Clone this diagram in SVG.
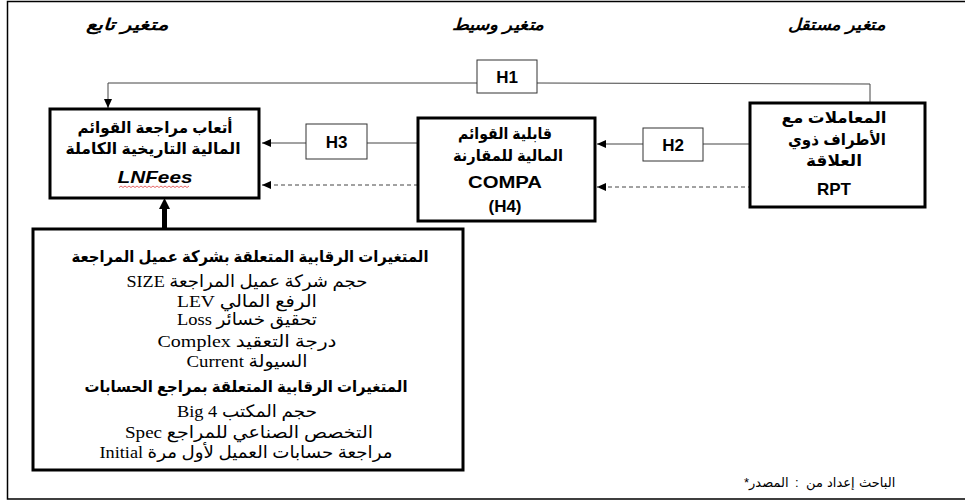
<svg xmlns="http://www.w3.org/2000/svg" width="965" height="503" viewBox="0 0 965 503">
<style>
.frame{fill:none;stroke:#000;stroke-width:1.5}
.box{fill:#fff;stroke:#000;stroke-width:3}
.hbox{fill:#fff;stroke:#333;stroke-width:1}
.ln{fill:none;stroke:#444;stroke-width:1}
.dash{fill:none;stroke:#444;stroke-width:1;stroke-dasharray:4,3}
.thick{fill:none;stroke:#000;stroke-width:5}
.hdr{font-family:"Liberation Sans","DejaVu Sans",sans-serif;font-weight:bold;font-style:italic;font-size:16px;fill:#000;text-anchor:middle}
.ar{font-family:"Liberation Sans","DejaVu Sans",sans-serif;font-weight:bold;font-size:16px;fill:#000;text-anchor:middle}
.lat{font-family:"Liberation Sans","DejaVu Sans",sans-serif;font-weight:bold;font-size:17px;fill:#000;text-anchor:middle}
.ser{font-family:"Liberation Serif","DejaVu Sans",serif;font-size:17px;fill:#000;text-anchor:middle}
.serb{font-family:"Liberation Sans","DejaVu Sans",sans-serif;font-weight:bold;font-size:16px;fill:#000;text-anchor:middle}
.foot{font-family:"Liberation Sans","DejaVu Sans",sans-serif;font-size:13px;fill:#000}
</style>
<defs>
<marker id="ah" markerWidth="9" markerHeight="8" refX="9" refY="4" orient="auto" markerUnits="userSpaceOnUse"><path d="M0,0 L9,4 L0,8 z" fill="#000"/></marker>
</defs>

<path class="frame" d="M965,1.5 H7.5 V499 H965"/>

<g id="headers">
<text class="hdr" x="127" y="30" direction="rtl" textLength="83" lengthAdjust="spacingAndGlyphs">متغير تابع</text>
<text class="hdr" x="498" y="30" direction="rtl" textLength="93" lengthAdjust="spacingAndGlyphs">متغير وسيط</text>
<text class="hdr" x="837" y="30" direction="rtl" textLength="98" lengthAdjust="spacingAndGlyphs">متغير مستقل</text>
</g>

<g id="connectors">
<path class="ln" d="M870,103 V84 L537,83"/>
<path class="ln" d="M477,83 H108 V108" marker-end="url(#ah)"/>
<path class="ln" d="M418,143 H367"/>
<path class="ln" d="M306,143 H262" marker-end="url(#ah)"/>
<path class="ln" d="M750,144 H703"/>
<path class="ln" d="M643,144 H597" marker-end="url(#ah)"/>
<path class="dash" d="M418,185 H262" marker-end="url(#ah)"/>
<path class="dash" d="M752,187 H597" marker-end="url(#ah)"/>
<path class="thick" d="M164.5,229 V208"/>
<path d="M159,209 L164.5,198 L170,209 z" fill="#000"/>
</g>

<g id="h1">
<rect class="hbox" x="477" y="60" width="60" height="33"/>
<text class="lat" x="507" y="83">H1</text>
</g>
<g id="h3">
<rect class="hbox" x="306" y="124" width="61" height="35"/>
<text class="lat" x="336.5" y="148">H3</text>
</g>
<g id="h2">
<rect class="hbox" x="643" y="128" width="60" height="33"/>
<text class="lat" x="673" y="151">H2</text>
</g>

<g id="lnfees">
<rect class="box" x="50" y="109" width="209" height="89"/>
<text class="ar" x="155" y="133" direction="rtl" textLength="155" lengthAdjust="spacingAndGlyphs">أتعاب مراجعة القوائم</text>
<text class="ar" x="153" y="154" direction="rtl" textLength="175" lengthAdjust="spacingAndGlyphs">المالية التاريخية الكاملة</text>
<text class="lat" x="155" y="183" font-style="italic" textLength="75" lengthAdjust="spacingAndGlyphs">LNFees</text>
<path d="M119,187.5 l2,-1.5 l2,1.5 l2,-1.5 l2,1.5 l2,-1.5 l2,1.5 l2,-1.5 l2,1.5 l2,-1.5 l2,1.5 l2,-1.5 l2,1.5 l2,-1.5 l2,1.5 l2,-1.5 l2,1.5 l2,-1.5 l2,1.5 l2,-1.5 l2,1.5 l2,-1.5 l2,1.5 l2,-1.5 l2,1.5 l2,-1.5 l2,1.5 l2,-1.5 l2,1.5 l2,-1.5 l2,1.5 l2,-1.5 l2,1.5 l2,-1.5 l2,1.5 l2,-1.5" fill="none" stroke="#e04040" stroke-width="0.8"/>
</g>

<g id="compa">
<rect class="box" x="418" y="118" width="177" height="103"/>
<text class="ar" x="505" y="139" direction="rtl" textLength="94" lengthAdjust="spacingAndGlyphs">قابلية القوائم</text>
<text class="ar" x="508" y="161" direction="rtl" textLength="110" lengthAdjust="spacingAndGlyphs">المالية للمقارنة</text>
<text class="lat" x="505" y="188" textLength="74" lengthAdjust="spacingAndGlyphs">COMPA</text>
<text class="lat" x="505" y="212" font-size="18">(H4)</text>
</g>

<g id="rpt">
<rect class="box" x="750" y="103" width="175" height="104"/>
<text class="ar" x="834" y="123" direction="rtl" textLength="105" lengthAdjust="spacingAndGlyphs">المعاملات مع</text>
<text class="ar" x="837" y="145" direction="rtl" textLength="98" lengthAdjust="spacingAndGlyphs">الأطراف ذوي</text>
<text class="ar" x="834" y="166" direction="rtl" textLength="56" lengthAdjust="spacingAndGlyphs">العلاقة</text>
<text class="lat" x="834" y="195">RPT</text>
</g>

<g id="controls">
<rect class="box" x="33" y="229" width="430" height="241"/>
<text class="serb" x="250" y="262" direction="rtl" textLength="357" lengthAdjust="spacingAndGlyphs">المتغيرات الرقابية المتعلقة بشركة عميل المراجعة</text>
<text class="ser" x="247" y="287" direction="rtl" textLength="241" lengthAdjust="spacingAndGlyphs">حجم شركة عميل المراجعة SIZE</text>
<text class="ser" x="247" y="307" direction="rtl" textLength="140" lengthAdjust="spacingAndGlyphs">الرفع المالي  LEV</text>
<text class="ser" x="247" y="325" direction="rtl" textLength="140" lengthAdjust="spacingAndGlyphs">تحقيق خسائر Loss</text>
<text class="ser" x="247" y="347" direction="rtl" textLength="179" lengthAdjust="spacingAndGlyphs">درجة التعقيد  Complex</text>
<text class="ser" x="247" y="367" direction="rtl" textLength="121" lengthAdjust="spacingAndGlyphs">السيولة Current</text>
<text class="serb" x="246" y="392" direction="rtl" textLength="323" lengthAdjust="spacingAndGlyphs">المتغيرات الرقابية المتعلقة بمراجع الحسابات</text>
<text class="ser" x="247" y="417" direction="rtl" textLength="140" lengthAdjust="spacingAndGlyphs">حجم المكتب Big 4</text>
<text class="ser" x="249" y="438" direction="rtl" textLength="248" lengthAdjust="spacingAndGlyphs">التخصص الصناعي للمراجع Spec</text>
<text class="ser" x="246" y="458" direction="rtl" textLength="293" lengthAdjust="spacingAndGlyphs">مراجعة حسابات العميل لأول مرة Initial</text>
</g>

<g id="source">
<text class="foot" x="744" y="487">*المصدر</text>
<text class="foot" x="795" y="487">:</text>
<text class="foot" x="806" y="487">من</text>
<text class="foot" x="827" y="487">إعداد</text>
<text class="foot" x="859" y="487">الباحث</text>
</g>
</svg>
